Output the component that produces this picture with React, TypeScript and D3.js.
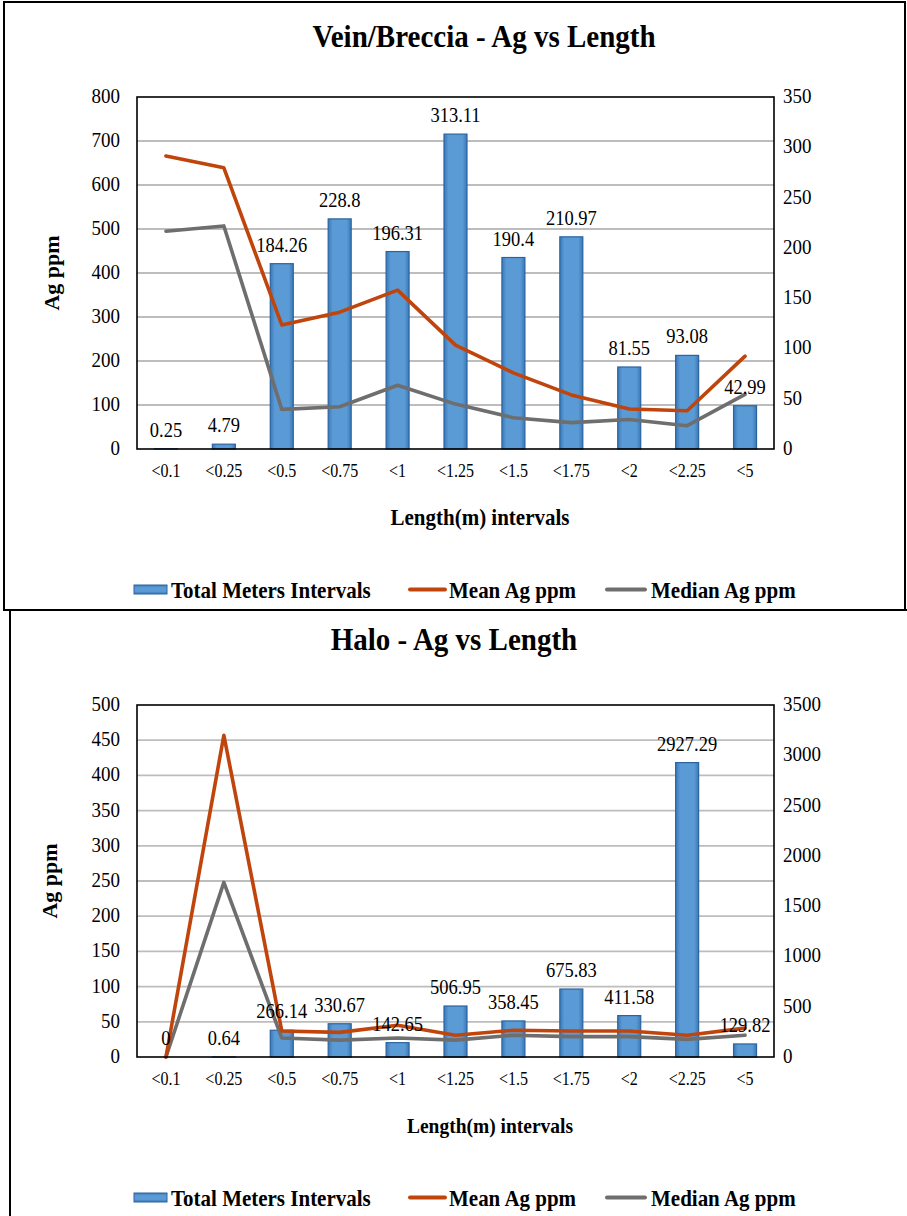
import React from 'react';
import * as d3 from 'd3';

const categories = ['<0.1', '<0.25', '<0.5', '<0.75', '<1', '<1.25', '<1.5', '<1.75', '<2', '<2.25', '<5'];

const veinMeters = [0.25, 4.79, 184.26, 228.8, 196.31, 313.11, 190.4, 210.97, 81.55, 93.08, 42.99];
const veinMean = [666, 639, 282, 311, 361, 236, 173, 123, 91, 87, 211];
const veinMedian = [495, 507, 90, 96, 145, 102, 71, 60, 67, 53, 124];
const veinLeftTicks = [0, 100, 200, 300, 400, 500, 600, 700, 800];
const veinRightTicks = [0, 50, 100, 150, 200, 250, 300, 350];

const haloMeters = [0, 0.64, 266.14, 330.67, 142.65, 506.95, 358.45, 675.83, 411.58, 2927.29, 129.82];
const haloMean = [0, 457, 37, 35, 45, 31, 38, 37, 37, 31, 41];
const haloMedian = [0, 248, 27, 24, 27, 24, 31, 29, 29, 25, 31];
const haloLeftTicks = [0, 50, 100, 150, 200, 250, 300, 350, 400, 450, 500];
const haloRightTicks = [0, 500, 1000, 1500, 2000, 2500, 3000, 3500];

const FONT = '"Liberation Serif", "Times New Roman", serif';
const MEAN_COLOR = '#C0450C';
const MEDIAN_COLOR = '#6E6E6E';

type TProps = {
  x: number;
  y: number;
  size: number;
  anchor?: string;
  bold?: boolean;
  sy?: number;
  children: React.ReactNode;
};

function T({ x, y, size, anchor = 'start', bold = false, sy = 1.1, children }: TProps) {
  return (
    <text
      transform={`translate(${x},${y}) scale(1,${sy})`}
      textAnchor={anchor}
      fontFamily={FONT}
      fontWeight={bold ? 'bold' : 'normal'}
      fontSize={size}
      fill="#000"
    >
      {children}
    </text>
  );
}

type PanelProps = {
  title: string;
  titleX: number;
  titleY: number;
  top: number;
  bottom: number;
  meters: number[];
  mean: number[];
  median: number[];
  leftTicks: number[];
  rightTicks: number[];
  yTitleX: number;
  xTitleX: number;
  xTitleSize: number;
};

function Panel(p: PanelProps) {
  const left = 137;
  const right = 774;
  const x = d3.scaleBand<string>().domain(categories).range([left, right]).paddingInner(0).paddingOuter(0);
  const yL = d3.scaleLinear().domain([0, p.leftTicks[p.leftTicks.length - 1]]).range([p.bottom, p.top]);
  const yR = d3.scaleLinear().domain([0, p.rightTicks[p.rightTicks.length - 1]]).range([p.bottom, p.top]);
  const bw = 23;
  const cx = (c: string) => (x(c) as number) + x.bandwidth() / 2;
  const line = d3
    .line<number>()
    .x((_, i) => cx(categories[i]))
    .y((d) => yL(d));

  return (
    <g>
      <T x={p.titleX} y={p.titleY} size={29} anchor="middle" bold sy={1.08}>
        {p.title}
      </T>
      {p.leftTicks.slice(1, -1).map((t) => (
        <line key={'g' + t} x1={left} x2={right} y1={yL(t)} y2={yL(t)} stroke="#BDBDBD" strokeWidth={1.8} />
      ))}
      {p.leftTicks.map((t) => (
        <T key={'l' + t} x={120} y={yL(t) + 6} size={19} anchor="end">
          {t}
        </T>
      ))}
      {p.rightTicks.map((t) => (
        <T key={'r' + t} x={783} y={yR(t) + 6} size={19}>
          {t}
        </T>
      ))}
      {p.meters.map((v, i) => {
        const h = p.bottom - yR(v);
        if (h <= 0) return null;
        return (
          <rect
            key={'b' + i}
            x={cx(categories[i]) - bw / 2}
            y={yR(v)}
            width={bw}
            height={h}
            fill="url(#barGrad)"
            stroke="#2A64A0"
            strokeWidth={1.2}
          />
        );
      })}
      <path d={line(p.median) || ''} fill="none" stroke={MEDIAN_COLOR} strokeWidth={3.6} strokeLinejoin="round" strokeLinecap="round" />
      <path d={line(p.mean) || ''} fill="none" stroke={MEAN_COLOR} strokeWidth={3.6} strokeLinejoin="round" strokeLinecap="round" />
      <rect x={left} y={p.top} width={right - left} height={p.bottom - p.top} fill="none" stroke="#000" strokeWidth={1.6} />
      {p.meters.map((v, i) => (
        <T key={'t' + i} x={cx(categories[i])} y={yR(v) - 12} size={18.5} anchor="middle">
          {String(v)}
        </T>
      ))}
      {categories.map((c) => (
        <T key={'x' + c} x={cx(c)} y={p.bottom + 28} size={16} anchor="middle" sy={1.15}>
          {c}
        </T>
      ))}
      <T x={p.xTitleX} y={p.bottom + 76} size={p.xTitleSize} anchor="middle" bold>
        Length(m) intervals
      </T>
      <text
        transform={`translate(${p.yTitleX},${(p.top + p.bottom) / 2}) rotate(-90)`}
        textAnchor="middle"
        fontFamily={FONT}
        fontWeight="bold"
        fontSize={22}
      >
        Ag ppm
      </text>
      <g transform={`translate(0,${p.bottom + 136})`}>
        <rect x={134} y={0} width={33} height={9} fill="url(#barGradH)" stroke="#2A64A0" strokeWidth={1} />
        <T x={171} y={13} size={21} bold>
          Total Meters Intervals
        </T>
        <line x1={410} x2={445} y1={4.5} y2={4.5} stroke={MEAN_COLOR} strokeWidth={4} strokeLinecap="round" />
        <T x={449} y={13} size={21} bold>
          Mean Ag ppm
        </T>
        <line x1={607} x2={645} y1={4.5} y2={4.5} stroke={MEDIAN_COLOR} strokeWidth={4} strokeLinecap="round" />
        <T x={651} y={13} size={21} bold>
          Median Ag ppm
        </T>
      </g>
    </g>
  );
}

export default function App() {
  return (
    <svg width={907} height={1216} style={{ position: 'absolute', left: 0, top: 0, background: '#fff' }}>
      <defs>
        <linearGradient id="barGrad" x1="0" x2="1" y1="0" y2="0">
          <stop offset="0" stopColor="#3A78B8" />
          <stop offset="0.2" stopColor="#5B9BD5" />
          <stop offset="0.8" stopColor="#5B9BD5" />
          <stop offset="1" stopColor="#3A78B8" />
        </linearGradient>
        <linearGradient id="barGradH" x1="0" x2="0" y1="0" y2="1">
          <stop offset="0" stopColor="#3A78B8" />
          <stop offset="0.3" stopColor="#5B9BD5" />
          <stop offset="0.7" stopColor="#5B9BD5" />
          <stop offset="1" stopColor="#3A78B8" />
        </linearGradient>
      </defs>
      <rect x={0} y={0} width={907} height={1216} fill="#fff" />
      <rect x={4} y={2} width={901} height={608} fill="none" stroke="#000" strokeWidth={2} />
      <rect x={10} y={610} width={920} height={640} fill="none" stroke="#000" strokeWidth={2} />
      <Panel
        title="Vein/Breccia - Ag vs Length"
        titleX={484}
        titleY={47}
        top={97}
        bottom={449}
        meters={veinMeters}
        mean={veinMean}
        median={veinMedian}
        leftTicks={veinLeftTicks}
        rightTicks={veinRightTicks}
        yTitleX={59}
        xTitleX={480}
        xTitleSize={21}
      />
      <Panel
        title="Halo - Ag vs Length"
        titleX={454}
        titleY={650}
        top={705}
        bottom={1057}
        meters={haloMeters}
        mean={haloMean}
        median={haloMedian}
        leftTicks={haloLeftTicks}
        rightTicks={haloRightTicks}
        yTitleX={57}
        xTitleX={490}
        xTitleSize={19.5}
      />
    </svg>
  );
}
